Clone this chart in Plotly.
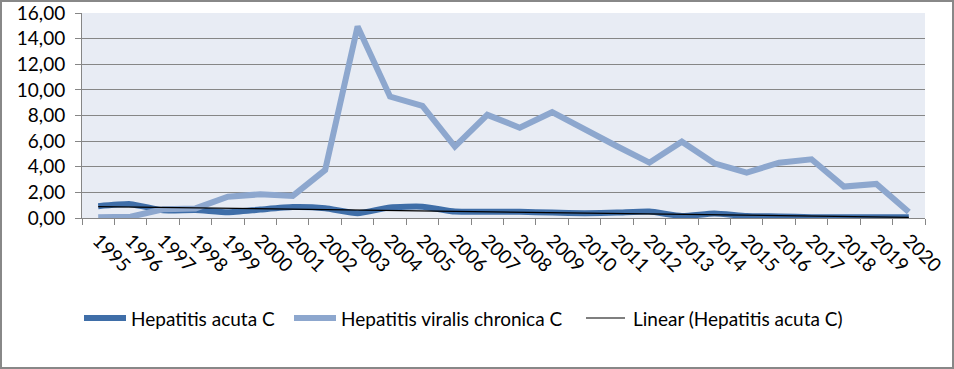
import numpy as np
import plotly.graph_objects as go

years = [str(y) for y in range(1995, 2021)]
acuta_c = [0.92, 1.08, 0.60, 0.62, 0.45, 0.66, 0.85, 0.76, 0.37, 0.83, 0.88, 0.50,
           0.48, 0.48, 0.42, 0.38, 0.42, 0.50, 0.16, 0.35, 0.15, 0.12, 0.06, 0.05, 0.05, 0.05]
chronica_c = [0.05, 0.10, 0.68, 0.75, 1.66, 1.85, 1.72, 3.75, 14.95, 9.48, 8.75, 5.57,
              8.05, 7.05, 8.26, 6.90, 5.60, 4.32, 5.96, 4.27, 3.54, 4.32, 4.58, 2.45, 2.66, 0.47]

names = ["Hepatitis acuta C", "Hepatitis viralis chronica C", "Linear (Hepatitis acuta C)"]

idx = np.arange(len(years))
coef = np.polyfit(idx, acuta_c, 1)
trend = np.polyval(coef, idx)

DARK = "#3F6EA8"
LIGHT = "#8DA7CE"
GRID = "#868686"
FONT = "Lato"
FS = 19

W, H = 954, 369
ml, mr, mt, mb = 82, 29, 13, 151
pw, ph = W - ml - mr, H - mt - mb


def px_x(px):
    return (px - ml) / pw


def px_y(py):
    return (mt + ph - py) / ph


fig = go.Figure()
fig.add_trace(go.Scatter(x=years, y=acuta_c, mode="lines", name=names[0],
                         line=dict(color=DARK, width=6, shape="spline", smoothing=0.5)))
fig.add_trace(go.Scatter(x=years, y=chronica_c, mode="lines", name=names[1],
                         line=dict(color=LIGHT, width=6)))
fig.add_trace(go.Scatter(x=years, y=trend, mode="lines", name=names[2],
                         line=dict(color="black", width=1.2)))

# manual legend (items placed as in the reference)
leg_y = px_y(318)
leg_items = [(names[0], DARK, 6, 84, 126, 129),
             (names[1], LIGHT, 6, 294, 336, 339),
             (names[2], "black", 1.2, 586, 625, 631)]
shapes = []
annotations = []
for name, col, w, x0, x1, tx in leg_items:
    shapes.append(dict(type="line", xref="paper", yref="paper",
                       x0=px_x(x0), x1=px_x(x1), y0=leg_y, y1=leg_y,
                       line=dict(color=col, width=w)))
    annotations.append(dict(text=name, xref="paper", yref="paper", x=px_x(tx), y=leg_y,
                            xanchor="left", yanchor="middle", showarrow=False,
                            font=dict(family=FONT, size=FS, color="black")))

shapes.append(dict(type="rect", xref="paper", yref="paper",
                   x0=-(ml - 1) / pw, x1=1 + (mr - 1) / pw,
                   y0=-(mb - 1) / ph, y1=1 + (mt - 1) / ph,
                   line=dict(color="#888888", width=2), fillcolor="rgba(0,0,0,0)",
                   layer="above"))

fig.update_layout(
    width=W, height=H,
    margin=dict(l=ml, r=mr, t=mt, b=mb, pad=0, autoexpand=False),
    paper_bgcolor="white",
    plot_bgcolor="#E8ECF4",
    separators=", ",
    font=dict(family=FONT, size=FS, color="black"),
    showlegend=False,
    xaxis=dict(type="category", categoryorder="array", categoryarray=years,
               range=[-0.5, len(years) - 0.5], tickangle=45, tickson="boundaries",
               ticks="outside", ticklen=6, tickcolor=GRID, showline=True,
               linecolor=GRID, linewidth=1, showgrid=False, zeroline=False,
               ticklabelstandoff=3,
               automargin=False, tickfont=dict(family=FONT, size=FS)),
    yaxis=dict(range=[0, 16], dtick=2, tickformat=".2f", ticks="outside", ticklen=6,
               tickcolor=GRID, showline=True, linecolor=GRID, linewidth=1,
               showgrid=True, gridcolor=GRID, gridwidth=1, zeroline=False,
               ticklabelstandoff=6,
               automargin=False, tickfont=dict(family=FONT, size=FS)),
    shapes=shapes,
    annotations=annotations,
)

fig.write_html("out.html", config={"displayModeBar": False},
               post_script="document.body.style.margin='0';")
